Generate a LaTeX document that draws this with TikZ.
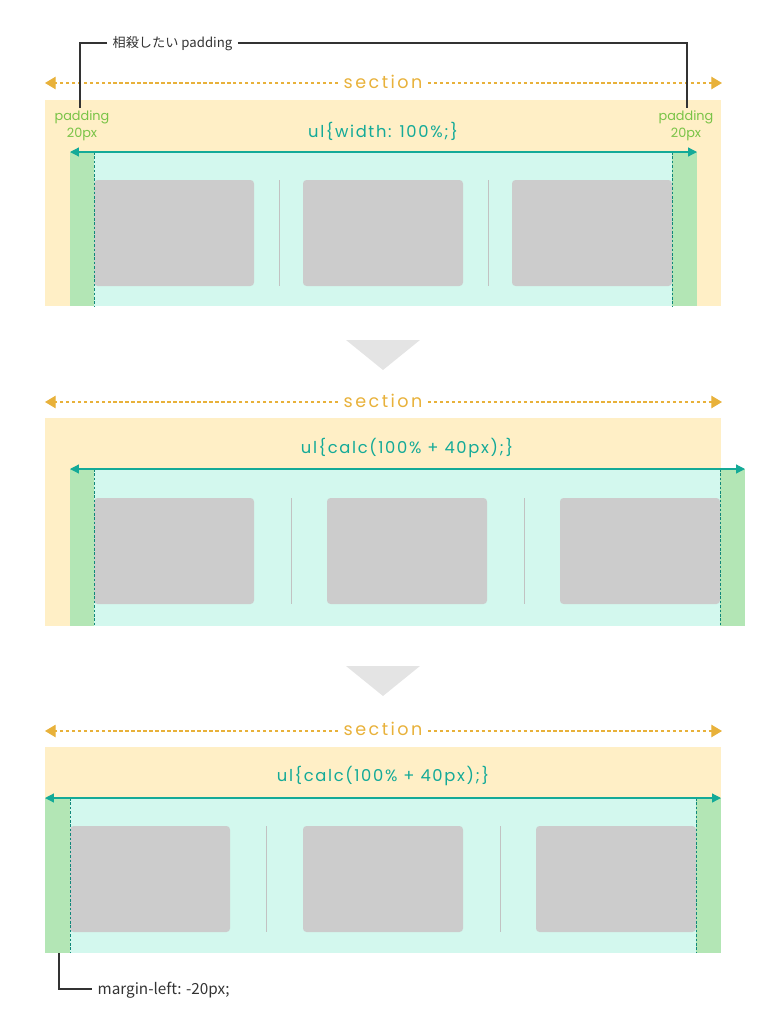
\documentclass[tikz,border=0pt]{standalone}
\usepackage{fontspec}
\setmainfont{Poppins}
\newfontfamily\jpfont{Noto Sans CJK JP}
\newfontfamily\secfont[LetterSpace=14]{Poppins}
\newfontfamily\ulfont[LetterSpace=10]{Poppins}
\usepackage{tikz}
\usetikzlibrary{arrows.meta}

\definecolor{secbg}{HTML}{FFEFC6}
\definecolor{ulbg}{HTML}{D3F8EE}
\definecolor{padbg}{HTML}{B3E6B5}
\definecolor{itembg}{HTML}{CCCCCC}
\definecolor{seccol}{HTML}{E8B13A}
\definecolor{ulcol}{HTML}{14AA98}
\definecolor{padcol}{HTML}{78C346}
\definecolor{notecol}{HTML}{333333}
\definecolor{downcol}{HTML}{E4E4E4}

\tikzset{
  secarrow/.style={seccol, line width=0.6pt, dash pattern=on 2pt off 1.4pt, -{Triangle[length=6pt, width=7pt]}},
  sectext/.style={text=seccol, font=\secfont\fontsize{10}{12}\selectfont, inner sep=3pt},
  ularrow/.style={ulcol, line width=0.7pt, {Triangle[length=5pt, width=5pt]}-{Triangle[length=5pt, width=5pt]}},
  ultext/.style={text=ulcol, font=\ulfont\fontsize{9.3}{11}\selectfont},
  padtext/.style={text=padcol, font=\fontsize{7.3}{8}\selectfont, align=center},
  padline/.style={ulcol!80!black, line width=0.5pt, dash pattern=on 1.5pt off 1pt},
  sepline/.style={itembg!95!black, line width=0.5pt},
  note/.style={text=notecol, font=\jpfont\fontsize{7.5}{9}\selectfont, inner sep=3pt},
  noteline/.style={notecol, line width=0.7pt},
}

\begin{document}
\begin{tikzpicture}[x=0.02cm, y=-0.02cm]
  \useasboundingbox (0,0) rectangle (781,1024);

  % --- before ---
  \fill[secbg] (45,100) rectangle (721,306);
  \fill[ulbg] (70,152) rectangle (697,306);
  \fill[padbg] (70,152) rectangle (94,306);
  \fill[padbg] (672,152) rectangle (697,306);
  \foreach \x in {94,303,512}
    \fill[itembg, rounded corners=2] (\x,180) rectangle ++(160,106);
  \foreach \x in {279,488}
    \draw[sepline] (\x,180) -- (\x,286);
  \draw[padline] (94,152) -- (94,306);
  \draw[padline] (672,152) -- (672,306);
  \coordinate (ulL1) at (70,152);
  \coordinate (ulR1) at (697,152);
  \draw[ularrow] (ulL1) -- (ulR1);
  \node[ultext] (ul1) at (383,131) {ul\{width: 100\%;\}};
  \node[padtext] (padL) at (82,126) {padding\\[2pt]20px};
  \node[padtext] (padR) at (686,126) {padding\\[2pt]20px};
  \node[sectext] (sec1) at (383,82) {section};
  \coordinate (secL1) at (45,83);
  \coordinate (secR1) at (722,83);
  \draw[secarrow] (sec1.west |- secL1) -- (secL1);
  \draw[secarrow] (sec1.east |- secR1) -- (secR1);
  \node[note, anchor=west] (cancel) at (107,44) {相殺したい padding};
  \coordinate (padLtop) at (80,108);
  \coordinate (padRtop) at (687,108);
  \draw[noteline] (cancel.west |- 0,43) -| (padLtop);
  \draw[noteline] (cancel.east |- 0,43) -| (padRtop);

  % arrow down
  \fill[downcol] (346,340) -- (420,340) -- (383,370) -- cycle;

  % --- wider ul ---
  \fill[secbg] (45,418) rectangle (721,626);
  \fill[ulbg] (70,469) rectangle (745,626);
  \fill[padbg] (70,469) rectangle (94,626);
  \fill[padbg] (720,469) rectangle (745,626);
  \foreach \x in {94,327,560}
    \fill[itembg, rounded corners=2] (\x,498) rectangle ++(160,106);
  \foreach \x in {291,524}
    \draw[sepline] (\x,498) -- (\x,604);
  \draw[padline] (94,469) -- (94,626);
  \draw[padline] (720,469) -- (720,626);
  \coordinate (ulL2) at (70,469);
  \coordinate (ulR2) at (745,469);
  \draw[ularrow] (ulL2) -- (ulR2);
  \node[ultext] (ul2) at (407,448) {ul\{calc(100\% + 40px);\}};
  \node[sectext] (sec2) at (383,401) {section};
  \coordinate (secL2) at (45,402);
  \coordinate (secR2) at (722,402);
  \draw[secarrow] (sec2.west |- secL2) -- (secL2);
  \draw[secarrow] (sec2.east |- secR2) -- (secR2);

  % arrow down
  \fill[downcol] (346,666) -- (420,666) -- (383,696) -- cycle;

  % --- with negative margin ---
  \fill[secbg] (45,747) rectangle (721,953);
  \fill[ulbg] (45,798) rectangle (721,953);
  \fill[padbg] (45,798) rectangle (70,953);
  \fill[padbg] (696,798) rectangle (721,953);
  \foreach \x in {70,303,536}
    \fill[itembg, rounded corners=2] (\x,826) rectangle ++(160,106);
  \foreach \x in {266,500}
    \draw[sepline] (\x,826) -- (\x,932);
  \draw[padline] (70,798) -- (70,953);
  \draw[padline] (696,798) -- (696,953);
  \coordinate (ulL3) at (45,798);
  \coordinate (ulR3) at (721,798);
  \draw[ularrow] (ulL3) -- (ulR3);
  \node[ultext] (ul3) at (383,776) {ul\{calc(100\% + 40px);\}};
  \node[sectext] (sec3) at (383,729) {section};
  \coordinate (secL3) at (45,731);
  \coordinate (secR3) at (722,731);
  \draw[secarrow] (sec3.west |- secL3) -- (secL3);
  \draw[secarrow] (sec3.east |- secR3) -- (secR3);
  \coordinate (mlTop) at (59,953);
  \node[note, anchor=west, font=\jpfont\fontsize{8.7}{10}\selectfont] (margin) at (92,990) {margin-left: -20px;};
  \draw[noteline] (mlTop) |- (margin.west |- 0,989);
\end{tikzpicture}
\end{document}
